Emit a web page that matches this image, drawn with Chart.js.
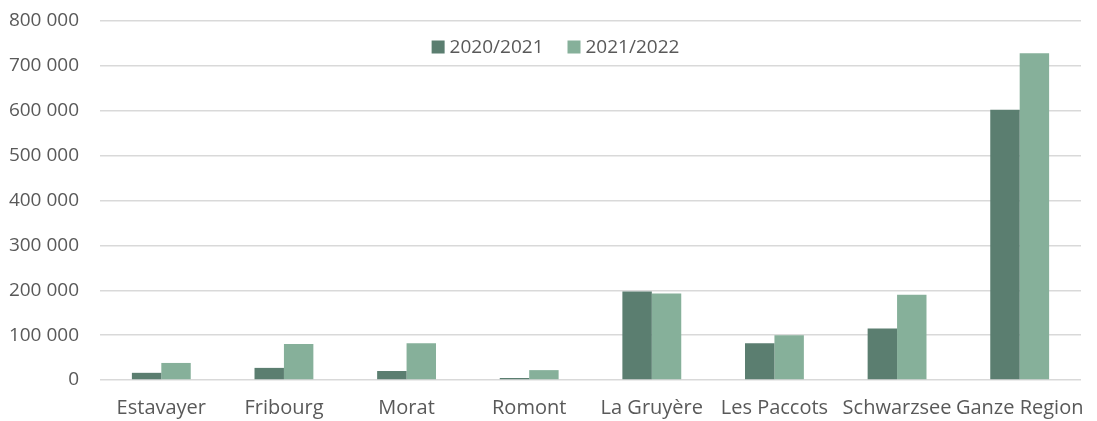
<!DOCTYPE html>
<html>
<head>
<meta charset="utf-8">
<script src="https://cdn.jsdelivr.net/npm/chart.js@4/dist/chart.umd.min.js"></script>
<style>
  html, body { margin: 0; padding: 0; background: #fff; }
  #wrap { width: 1097px; height: 421px; position: relative; }
</style>
</head>
<body>
<div id="wrap"><canvas id="chart"></canvas></div>
<script>
/* ── data ── */
const regions    = ['Estavayer', 'Fribourg', 'Morat', 'Romont', 'La Gruyère', 'Les Paccots', 'Schwarzsee', 'Ganze Region'];
const season2021 = [16000, 27000, 20000, 4500, 197000, 82000, 115000, 602000];
const season2122 = [38000, 80000, 82000, 22000, 193000, 99500, 190000, 728000];
const yTicks     = [0, 100000, 200000, 300000, 400000, 500000, 600000, 700000, 800000];

const textColor  = '#595959';
const gridColor  = '#d9d9d9';
const fontFamily = "'Source Sans Pro', 'Open Sans', 'Noto Sans', sans-serif";

const fmt = v => String(v).replace(/\B(?=(\d{3})+(?!\d))/g, ' ');

/* legend drawn inside the plot area, near the top (like the Excel original) */
const insideLegend = {
    id: 'insideLegend',
    afterDraw(chart) {
        const { ctx, chartArea } = chart;
        const sets = chart.data.datasets;
        const box = 13, gap = 5, spacing = 24;
        ctx.save();
        ctx.font = `19px ${fontFamily}`;
        ctx.textBaseline = 'middle';
        const widths = sets.map(ds => box + gap + ctx.measureText(ds.label).width);
        const total  = widths.reduce((a, b) => a + b, 0) + spacing * (sets.length - 1);
        let x = chart.width / 2 + 7 - total / 2;
        const y = chartArea.top + 26;
        sets.forEach((ds, i) => {
            ctx.fillStyle = ds.backgroundColor;
            ctx.fillRect(x, y - box / 2, box, box);
            ctx.fillStyle = textColor;
            ctx.fillText(ds.label, x + box + gap, y + 1);
            x += widths[i] + spacing;
        });
        ctx.restore();
    },
};

new Chart(document.getElementById('chart').getContext('2d'), {
    type: 'bar',
    data: {
        labels: regions,
        datasets: [
            { label: '2020/2021', data: season2021, backgroundColor: '#5b7e70' },
            { label: '2021/2022', data: season2122, backgroundColor: '#86b09a' },
        ],
    },
    options: {
        responsive: true,
        maintainAspectRatio: false,
        animation: false,
        layout: { padding: { top: 21, right: 16, left: 6, bottom: 0 } },
        datasets: { bar: { categoryPercentage: 0.48, barPercentage: 1.0 } },
        scales: {
            x: {
                grid: { display: false },
                border: { display: false },
                afterFit: axis => { axis.height = 41; axis.paddingLeft = 0; axis.paddingRight = 0; },
                ticks: { color: textColor, font: { family: fontFamily, size: 20 }, padding: 8, maxRotation: 0, autoSkip: false },
            },
            y: {
                min: 0,
                max: 800000,
                afterBuildTicks: axis => { axis.ticks = yTicks.map(v => ({ value: v })); },
                afterFit: axis => { axis.width = 94; axis.paddingTop = 0; axis.paddingBottom = 0; },
                grid: { color: gridColor, lineWidth: 1.5, drawTicks: false },
                border: { display: false },
                ticks: { color: textColor, font: { family: fontFamily, size: 19 }, padding: 21, callback: v => fmt(v) },
            },
        },
        plugins: {
            legend:  { display: false },
            tooltip: { enabled: false },
        },
    },
    plugins: [insideLegend],
});
</script>
</body>
</html>
